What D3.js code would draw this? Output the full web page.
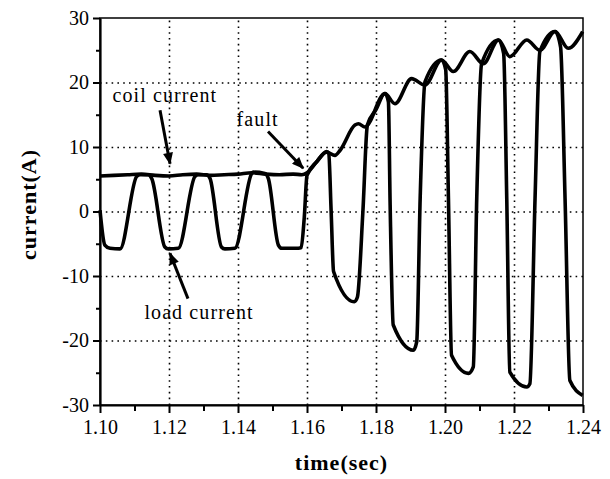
<!DOCTYPE html>
<html>
<head>
<meta charset="utf-8">
<script src="https://cdn.jsdelivr.net/npm/d3@7"></script>
<style>
  body { margin: 0; background: #fff; }
  svg { display: block; font-family: "Liberation Serif", "Times New Roman", serif; }
</style>
</head>
<body>
<svg id="chart" width="610" height="479"></svg>
<script>
// load current (A) vs time (sec)
const loadT = [1.1000, 1.1014, 1.1029, 1.1058, 1.1106, 1.1116, 1.1140, 1.1150, 1.1188, 1.1198,
  1.1227, 1.1275, 1.1285, 1.1309, 1.1319, 1.1352, 1.1362, 1.1391, 1.1440, 1.1444,
  1.1478, 1.1488, 1.1517, 1.1527, 1.1575, 1.1583, 1.1592, 1.1600, 1.1628, 1.1657,
  1.1663, 1.1670, 1.1677, 1.1737, 1.1746, 1.1762, 1.1775, 1.1800, 1.1826,
  1.1836, 1.1841, 1.1850, 1.1908, 1.1918, 1.1928, 1.1942, 1.1990, 1.2002, 1.2010,
  1.2019, 1.2068, 1.2082, 1.2092, 1.2106, 1.2155, 1.2170, 1.2179, 1.2188, 1.2237,
  1.2246, 1.2261, 1.2275, 1.2319, 1.2335, 1.2348, 1.2362, 1.2399];
const loadI = [0.2, -5.2, -5.7, -5.8, 5.4, 5.7, 5.7, 5.1, -5.5, -5.8,
  -5.7, 5.4, 5.7, 5.7, 5.1, -5.5, -5.8, -5.7, 5.9, 6.1,
  5.9, 5.1, -5.2, -5.7, -5.7, -5.6, -1.0, 5.6, 7.7, 9.3,
  9.0, 0.0, -9.3, -14.0, -13.3, 0.0, 13.4, 15.8, 18.3,
  17.0, 1.0, -17.6, -21.5, -20.2, 2.0, 20.1, 23.5, 22.0, 2.0,
  -22.3, -25.1, -24.1, 2.0, 22.9, 26.6, 24.5, 2.0, -24.9, -27.2,
  -26.7, 2.0, 24.8, 27.9, 25.5, 2.0, -26.2, -28.5];

// coil current (A) vs time (sec)
const coilT = [1.1000, 1.1040, 1.1080, 1.1120, 1.1160, 1.1200, 1.1240, 1.1280, 1.1320, 1.1360,
  1.1400, 1.1440, 1.1480, 1.1520, 1.1560, 1.1585, 1.1600, 1.1628, 1.1657, 1.1681,
  1.1696, 1.1739, 1.1749, 1.1768, 1.1826, 1.1855, 1.1903, 1.1942, 1.1990, 1.2024,
  1.2072, 1.2111, 1.2155, 1.2188, 1.2237, 1.2275, 1.2319, 1.2357, 1.2399];
const coilI = [5.5, 5.6, 5.7, 5.8, 5.6, 5.5, 5.7, 5.8, 5.6, 5.7,
  5.8, 6.0, 5.8, 5.7, 5.8, 5.7, 6.0, 7.7, 9.2, 8.7,
  9.5, 13.4, 13.6, 13.1, 18.3, 16.7, 20.6, 19.6, 23.5, 21.7,
  24.8, 22.9, 26.6, 24.0, 26.6, 25.0, 27.9, 25.3, 27.9];

const xTicks = [1.10, 1.12, 1.14, 1.16, 1.18, 1.20, 1.22, 1.24];
const xMinor = [1.11, 1.13, 1.15, 1.17, 1.19, 1.21, 1.23];
const yTicks = [-30, -20, -10, 0, 10, 20, 30];
const yMinor = [-25, -15, -5, 5, 15, 25];

// annotations: label at (t, v), arrow from (t, v) to (t, v)
const notes = [
  { text: "coil current", at: [1.1188, 17.0], from: [1.1174, 15.7], to: [1.1203, 7.4] },
  { text: "fault", at: [1.1457, 13.3], from: [1.1487, 12.4], to: [1.1589, 6.7] },
  { text: "load current", at: [1.1287, -16.7], from: [1.1255, -13.5], to: [1.1203, -6.5] }
];

const margin = { top: 18, right: 27, bottom: 74, left: 100 };
const W = 610, H = 479;
const w = W - margin.left - margin.right;
const h = H - margin.top - margin.bottom;

const svg = d3.select("#chart");
const g = svg.append("g").attr("transform", `translate(${margin.left},${margin.top})`);

const x = d3.scaleLinear().domain([1.10, 1.24]).range([0, w]);
const y = d3.scaleLinear().domain([-30, 30]).range([h, 0]);

// dotted grid
g.append("g")
  .attr("transform", `translate(0,${h})`)
  .call(d3.axisBottom(x).tickValues(xTicks.slice(1, -1)).tickSize(-h).tickFormat(""))
  .call(a => a.select(".domain").remove())
  .selectAll("line").attr("stroke", "#000").attr("stroke-width", 1.6).attr("stroke-dasharray", "1.6,4.2");
g.append("g")
  .call(d3.axisLeft(y).tickValues(yTicks.slice(1, -1)).tickSize(-w).tickFormat(""))
  .call(a => a.select(".domain").remove())
  .selectAll("line").attr("stroke", "#000").attr("stroke-width", 1.6).attr("stroke-dasharray", "1.6,4.2");

// frame
g.append("rect").attr("width", w).attr("height", h)
  .attr("fill", "none").attr("stroke", "#000").attr("stroke-width", 1.5);

// minor ticks
g.append("g").attr("transform", `translate(0,${h})`)
  .call(d3.axisBottom(x).tickValues(xMinor).tickSize(6).tickFormat(""))
  .call(a => a.select(".domain").remove())
  .selectAll("line").attr("stroke-width", 2);
g.append("g")
  .call(d3.axisLeft(y).tickValues(yMinor).tickSize(4).tickFormat(""))
  .call(a => a.select(".domain").remove())
  .selectAll("line").attr("stroke-width", 2);

// main axes
const xAxis = g.append("g").attr("transform", `translate(0,${h})`)
  .call(d3.axisBottom(x).tickValues(xTicks).tickSize(8).tickSizeOuter(0).tickPadding(7).tickFormat(d3.format(".2f")));
const yAxis = g.append("g")
  .call(d3.axisLeft(y).tickValues(yTicks).tickSize(7).tickSizeOuter(0).tickPadding(4).tickFormat(d => String(d)));
[xAxis, yAxis].forEach(a => {
  a.select(".domain").attr("stroke-width", 2.2);
  a.selectAll("line").attr("stroke-width", 2);
  a.selectAll("text").attr("font-family", "Liberation Serif").attr("font-size", 20).attr("fill", "#000");
});

// curves
const line = d3.line().x(d => x(d[0])).y(d => y(d[1])).curve(d3.curveMonotoneX);
const loadData = loadT.map((t, i) => [t, loadI[i]]);
const coilData = coilT.map((t, i) => [t, coilI[i]]);

g.append("path").datum(loadData).attr("d", line)
  .attr("fill", "none").attr("stroke", "#000").attr("stroke-width", 3.6).attr("stroke-linejoin", "round");
g.append("path").datum(coilData).attr("d", line)
  .attr("fill", "none").attr("stroke", "#000").attr("stroke-width", 3.6).attr("stroke-linejoin", "round");

// annotations
svg.append("defs").append("marker")
  .attr("id", "head")
  .attr("viewBox", "0 0 12 10")
  .attr("refX", 11).attr("refY", 5)
  .attr("markerUnits", "userSpaceOnUse")
  .attr("markerWidth", 13).attr("markerHeight", 10)
  .attr("orient", "auto")
  .append("path").attr("d", "M0,0 L12,5 L0,10 z").attr("fill", "#000");

g.selectAll(".note-arrow").data(notes).enter().append("line")
  .attr("class", "note-arrow")
  .attr("x1", d => x(d.from[0])).attr("y1", d => y(d.from[1]))
  .attr("x2", d => x(d.to[0])).attr("y2", d => y(d.to[1]))
  .attr("stroke", "#000").attr("stroke-width", 3)
  .attr("marker-end", "url(#head)");

g.selectAll(".note-text").data(notes).enter().append("text")
  .attr("class", "note-text")
  .attr("x", d => x(d.at[0])).attr("y", d => y(d.at[1]))
  .attr("text-anchor", "middle")
  .attr("font-size", 20).attr("letter-spacing", 1.1)
  .text(d => d.text);

// axis titles
svg.append("text")
  .attr("x", margin.left + x(1.17)).attr("y", 470)
  .attr("text-anchor", "middle")
  .attr("font-size", 22).attr("font-weight", "bold").attr("letter-spacing", 1)
  .text("time(sec)");
svg.append("text")
  .attr("transform", `translate(36,${margin.top + y(0) - 7}) rotate(-90)`)
  .attr("text-anchor", "middle")
  .attr("font-size", 22).attr("font-weight", "bold").attr("letter-spacing", 1)
  .text("current(A)");
</script>
</body>
</html>
